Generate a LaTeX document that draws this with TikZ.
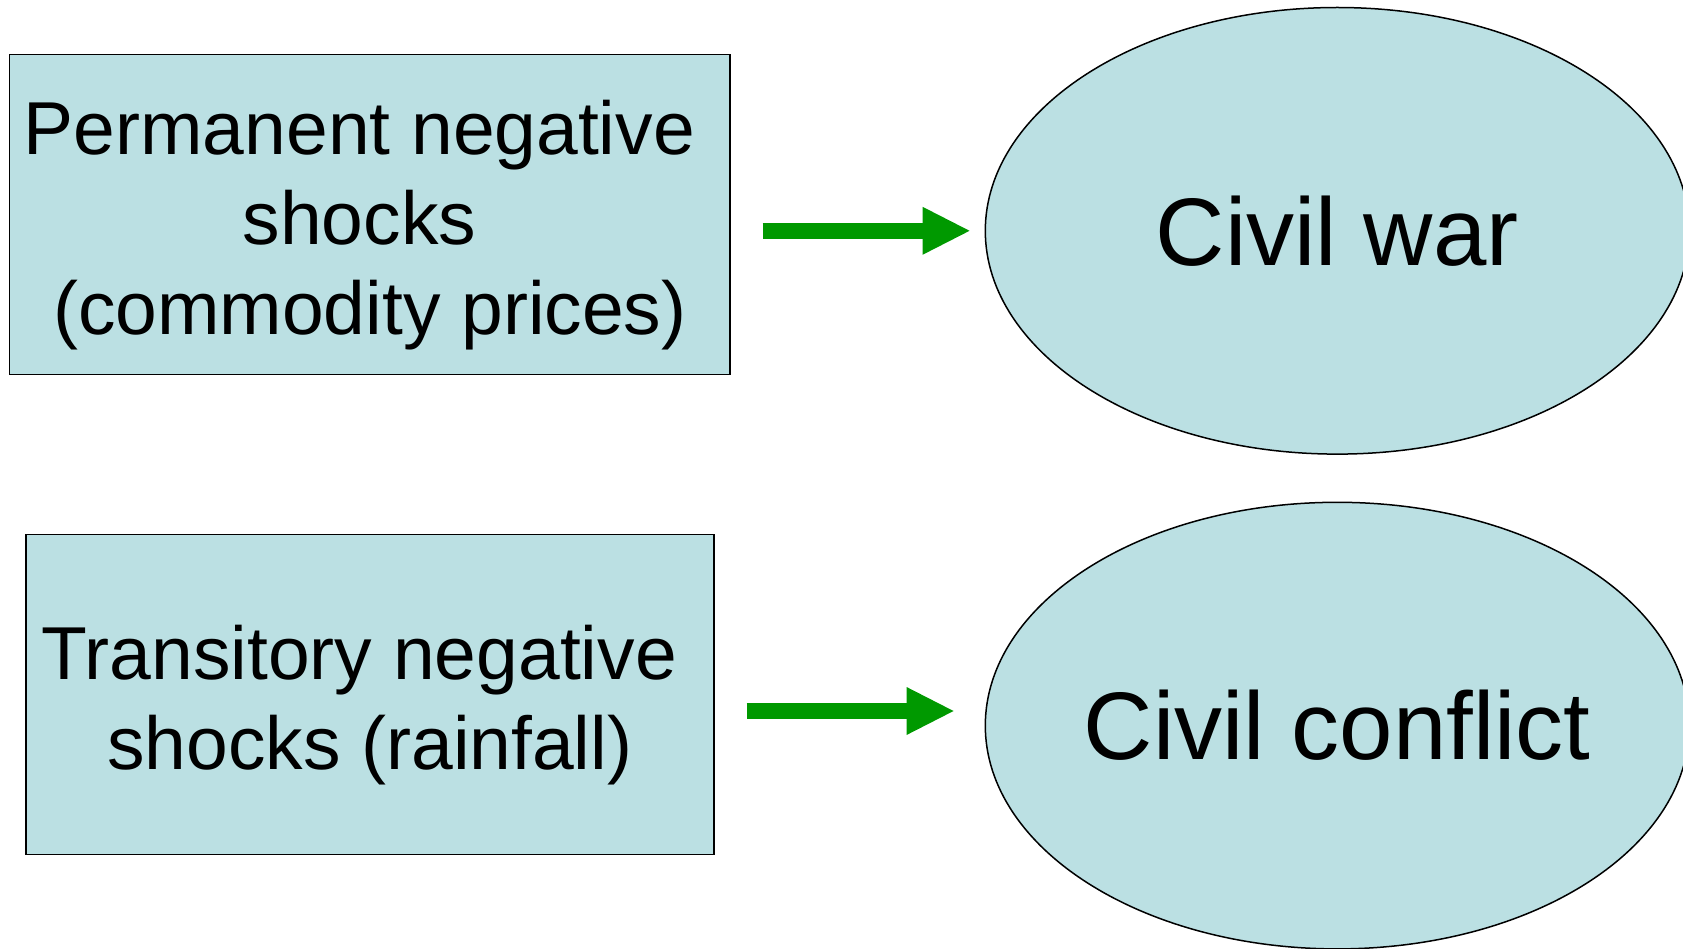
\documentclass[tikz,border=0pt]{standalone}
\usepackage{fontspec}
\setmainfont{Liberation Sans}
\usetikzlibrary{arrows.meta,shapes.geometric,calc}
\definecolor{shockfill}{RGB}{187,224,227}
\definecolor{flowgreen}{RGB}{0,153,0}
\newcommand{\trail}{\hspace*{0.278em}}
\begin{document}
\begin{tikzpicture}[x=1pt,y=-1pt,
  shockbox/.style={draw=black,line width=1.5pt,fill=shockfill,rectangle,inner sep=0pt},
  shocktext/.style={align=center,font=\fontsize{75}{90}\selectfont,yshift=-10.5pt},
  outcome/.style={draw=black,line width=1.5pt,fill=shockfill,ellipse,
    inner sep=0pt,minimum width=704pt,minimum height=446.6pt},
  outcometext/.style={font=\fontsize{96}{115}\selectfont},
  flow/.style={draw=flowgreen,line width=16pt,
    -{Triangle[length=47pt,width=48pt,line width=0pt]}}]
  \useasboundingbox (0,0) rectangle (1683,949);

  % causes
  \node[shockbox,minimum width=720.2pt,minimum height=319.9pt,
    label={[shocktext]center:Permanent negative\trail\\shocks\trail\trail\\(commodity prices)}]
    (b1) at (369.8,214.6) {};
  \node[shockbox,minimum width=688pt,minimum height=319.8pt,
    label={[shocktext]center:Transitory negative\trail\\shocks (rainfall)}]
    (b2) at (369.8,694.4) {};

  % outcomes
  \node[outcome,label={[outcometext]center:Civil war}] (e1) at (1337.3,230.8) {};
  \node[outcome,label={[outcometext]center:Civil conflict}] (e2) at (1337.3,725.6) {};

  % effects
  \draw[flow] ($(b1.east |- e1.west)+(32,0)$) -- ($(e1.west)+(-15,0)$);
  \draw[flow] ($(b2.east |- e2.west)+(32,-14.6)$) -- ($(e2.west)+(-31,-14.6)$);
\end{tikzpicture}
\end{document}
